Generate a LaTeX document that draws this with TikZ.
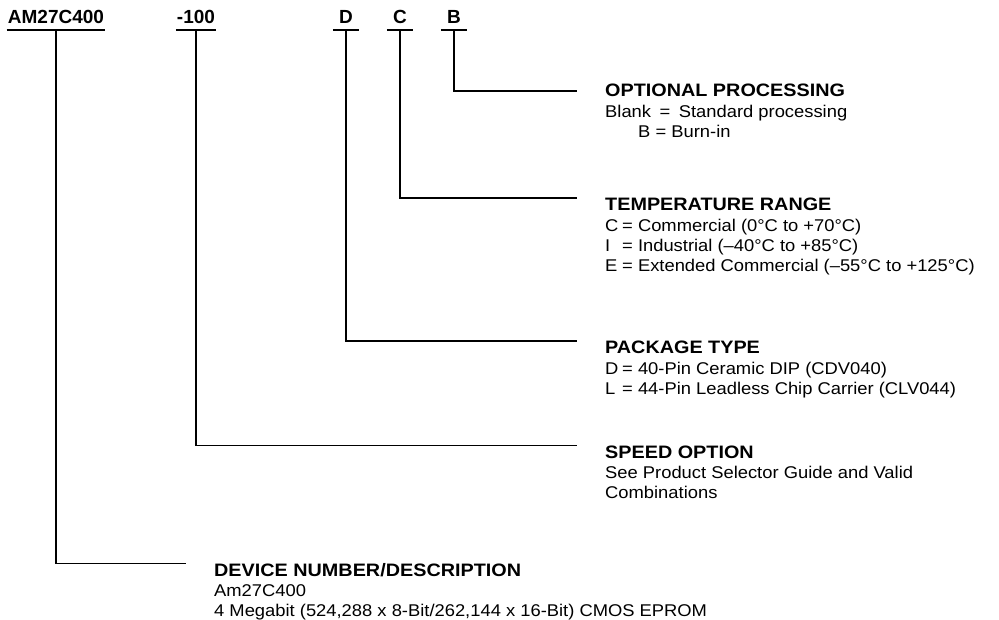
\documentclass[tikz,border=0pt]{standalone}
\usepackage{fontspec}
\setmainfont{Liberation Sans}[FakeStretch=1.08]
\newfontfamily\codefont{Liberation Sans}
\newfontfamily\headfont{Liberation Sans}[FakeStretch=1.1]
\usetikzlibrary{positioning}
\newcommand\keyeq[1]{\makebox[17pt][l]{#1}= }
\tikzset{
  code/.style={font=\fontsize{19}{22}\selectfont\codefont\bfseries,anchor=base,inner xsep=1pt,inner ysep=6pt,text depth=0pt,minimum width=26pt},
  head/.style={font=\fontsize{18}{20}\selectfont\headfont\bfseries,anchor=base west,inner sep=0pt,text height=12.5pt,text depth=0pt},
  body/.style={font=\fontsize{17}{20}\selectfont,align=left,inner sep=0pt},
  rule/.style={line width=1.6pt},
  link/.style={rule,shorten >=28pt}
}
\begin{document}
\begin{tikzpicture}[x=1pt,y=-1pt]
\useasboundingbox (0,0) rectangle (999,620);
\node[code] (am) at (56,24) {AM27C400};
\node[code] (spd) at (196,24) {-100};
\node[code] (pkg) at (346,24) {D};
\node[code] (tmp) at (400,24) {C};
\node[code] (opt) at (454,24) {B};
\draw[rule] (am.south west) -- (am.south east);
\draw[rule] (spd.south west) -- (spd.south east);
\draw[rule] (pkg.south west) -- (pkg.south east);
\draw[rule] (tmp.south west) -- (tmp.south east);
\draw[rule] (opt.south west) -- (opt.south east);

\node[head] (hopt) at (605,97) {OPTIONAL PROCESSING};
\node[body, below right=6pt and 0pt of hopt.south west] (bopt) {\strut Blank\enspace=\enspace Standard processing\\ \hspace*{33pt}B = Burn-in};
\node[head] (htmp) at (605,211) {TEMPERATURE RANGE};
\node[body, below right=6pt and 0pt of htmp.south west] (btmp) {\strut\keyeq{C}Commercial (0°C to +70°C)\\ \keyeq{I}Industrial (–40°C to +85°C)\\ \keyeq{E}Extended Commercial (–55°C to +125°C)};
\node[head] (hpkg) at (605,354) {PACKAGE TYPE};
\node[body, below right=6pt and 0pt of hpkg.south west] (bpkg) {\strut\keyeq{D}40-Pin Ceramic DIP (CDV040)\\ \keyeq{L}44-Pin Leadless Chip Carrier (CLV044)};
\node[head] (hspd) at (605,458) {SPEED OPTION};
\node[body, below right=6pt and 0pt of hspd.south west] (bspd) {\strut See Product Selector Guide and Valid\\ Combinations};
\node[head] (hdev) at (214,576) {DEVICE NUMBER/DESCRIPTION};
\node[body, below right=6pt and 0pt of hdev.south west] (bdev) {\strut Am27C400\\ 4 Megabit (524,288 x 8-Bit/262,144 x 16-Bit) CMOS EPROM};

\draw[link] (opt.south) |- (hopt.west);
\draw[link] (tmp.south) |- (htmp.north west);
\draw[link] (pkg.south) |- (hpkg.north west);
\draw[link] (spd.south) |- (hspd.north west);
\draw[link] (am.south) |- (hdev.north west);
\end{tikzpicture}
\end{document}
